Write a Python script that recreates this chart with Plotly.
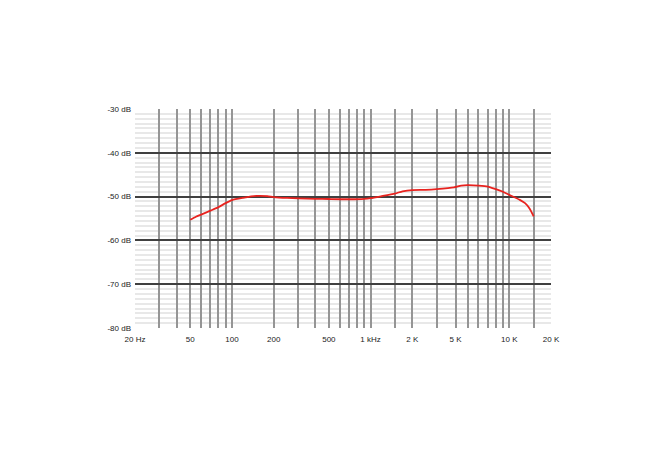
import plotly.graph_objects as go

# Frequency response data (Hz, dB)
freq_hz = [50, 55, 60, 70, 80, 90, 100, 120, 150, 180, 200, 250, 300, 400, 500,
           700, 900, 1000, 1200, 1500, 1700, 2000, 2500, 3000, 4000, 4500, 5000,
           6000, 7000, 8000, 9000, 10000, 11000, 12000, 13000, 14000, 15000]
level_db = [-55.3, -54.6, -54.1, -53.2, -52.4, -51.5, -50.8, -50.3, -49.85, -49.9,
            -50.1, -50.3, -50.4, -50.5, -50.55, -50.6, -50.5, -50.35, -49.9, -49.3,
            -48.8, -48.5, -48.45, -48.3, -47.9, -47.5, -47.4, -47.5, -47.7, -48.3,
            -48.9, -49.6, -50.2, -50.8, -51.5, -52.7, -54.5]

# Vertical grid positions and labels
grid_hz = [30, 40, 50, 60, 70, 80, 90, 100, 200, 300, 400, 500, 600, 700, 800, 900,
           1000, 1500, 2000, 3000, 4100, 5000, 6000, 7000, 8000, 9000, 10000,
           15000, 20000]
label_map = {50: "50", 100: "100", 200: "200", 500: "500", 1000: "1 kHz",
             2000: "2 K", 4100: "5 K", 10000: "10 K", 20000: "20 K"}
x_tickvals = [20] + grid_hz
x_ticktext = ["20 Hz"] + [label_map.get(v, "") for v in grid_hz]

y_tickvals = [-30, -40, -50, -60, -70, -80]
y_ticktext = ["-30 dB", "-40 dB", "-50 dB", "-60 dB", "-70 dB", "-80 dB"]

fig = go.Figure()
fig.add_trace(go.Scatter(
    x=freq_hz, y=level_db, mode="lines",
    line=dict(color="#e8231f", width=1.8, shape="spline", smoothing=0.6),
    hoverinfo="skip", showlegend=False))

font = dict(family="Liberation Sans, Arial, Helvetica, sans-serif", size=8, color="#222222")

fig.update_layout(
    width=654, height=437,
    margin=dict(l=127, r=111, t=101, b=117, autoexpand=False),
    paper_bgcolor="white", plot_bgcolor="white",
    font=font,
    xaxis=dict(
        type="log", range=[1.30103, 4.30103], automargin=False,
        tickmode="array", tickvals=x_tickvals, ticktext=x_ticktext,
        showgrid=True, gridcolor="#959595", gridwidth=1.5,
        zeroline=False, showline=False, ticks="", ticklen=0,
        ticklabelstandoff=5,
        tickfont=font, fixedrange=True,
    ),
    yaxis=dict(
        range=[-80, -30], automargin=False,
        tickmode="array", tickvals=y_tickvals, ticktext=y_ticktext,
        showgrid=True, gridcolor="#404040", gridwidth=1.5,
        minor=dict(tick0=-80, dtick=10/9, showgrid=True, gridcolor="#e8e8e8", gridwidth=1.6),
        zeroline=False, showline=False, ticks="", ticklen=0,
        ticklabelstandoff=3,
        tickfont=font, fixedrange=True,
    ),
)

fig.write_html("out.html")
